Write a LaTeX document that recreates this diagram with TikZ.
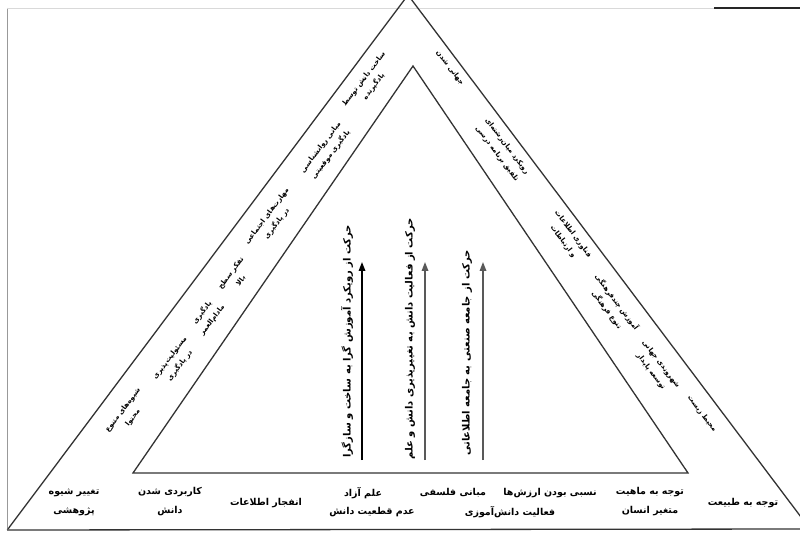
\documentclass[tikz,border=0pt]{standalone}
\usepackage{fontspec}
\usetikzlibrary{arrows.meta}
\TeXXeTstate=1
\newfontfamily\arabicfont[Script=Arabic]{DejaVu Sans}
\newcommand{\prs}[1]{{\arabicfont\bfseries\beginR #1\endR}}
\begin{document}
\begin{tikzpicture}[x=1pt,y=-1pt,
  tri/.style={line width=1.3pt, draw=black!80},
  band/.style={font=\fontsize{7}{12.5}\selectfont, align=center, inner sep=0pt},
  baselab/.style={font=\fontsize{9.5}{19}\selectfont, align=center, inner sep=0pt},
  vlab/.style={font=\fontsize{10}{10}\selectfont, rotate=90, anchor=west, inner sep=0pt},
  uparrow/.style={line width=1.6pt, draw=black!80, -{Triangle[length=9pt,width=6.5pt]}}]
\useasboundingbox (0,0) rectangle (800,534);
\fill[white] (0,0) rectangle (800,534);
\clip (0,0) rectangle (800,534);

% frame
\coordinate (fTL) at (7,8);
\coordinate (fBL) at (7,530);
\coordinate (fTR) at (800,8);
\coordinate (fK) at (714,8);
\draw[black!40, line width=0.8pt] (fTL) -- (fBL);
\draw[black!15, line width=0.6pt] (fTL) -- (fK);
\draw[black!85, line width=2pt] (fK) -- (fTR);

% triangles
\coordinate (oL) at (8,529);
\coordinate (oA) at (408,-5);
\coordinate (oR) at (810,529);
\coordinate (iL) at (133,473);
\coordinate (iA) at (413,66);
\coordinate (iR) at (688,473);
\draw[tri] (oL) -- (oA) -- (oR);
\draw[tri] (fBL) -- (oR);
\draw[tri] (iL) -- (iA) -- (iR) -- cycle;

% arrows
\coordinate (a1s) at (362,460); \coordinate (a1e) at (362,262);
\coordinate (a2s) at (425,460); \coordinate (a2e) at (425,262);
\coordinate (a3s) at (483,460); \coordinate (a3e) at (483,262);
\draw[uparrow, draw=black] (a1s) -- (a1e);
\draw[uparrow, draw=black!65] (a2s) -- (a2e);
\draw[uparrow, draw=black!65] (a3s) -- (a3e);

% vertical labels
\node[vlab] (v1) at (347,458) {\prs{حرکت از رویکرد آموزش گرا به ساخت و سازگرا}};
\node[vlab] (v2) at (410,460) {\prs{حرکت از فعالیت دانش به تغییرپذیری دانش و علم}};
\node[vlab] (v3) at (467,456) {\prs{حرکت از جامعه صنعتی به جامعه اطلاعاتی}};

% left band
\begin{scope}[every node/.append style={band, rotate=53}]
\node (l1) at (128,414) {\prs{شیوه^^^^200cهای متنوع}\\\prs{محتوا}};
\node (l2) at (175,362) {\prs{مسئولیت^^^^200cپذیری}\\\prs{در یادگیری}};
\node (l3) at (207,316) {\prs{یادگیری}\\\prs{مادام^^^^200cالعمر}};
\node (l4) at (236,277) {\prs{تفکر سطح}\\\prs{بالا}};
\node (l5) at (272,220) {\prs{مهارت^^^^200cهای اجتماعی}\\\prs{در یادگیری}};
\node (l6) at (326,151) {\prs{مبانی روانشناسی}\\\prs{یادگیری موقعیتی}};
\node (l7) at (369,83) {\prs{ساخت دانش توسط}\\\prs{یادگیرنده}};
\end{scope}

% right band
\begin{scope}[every node/.append style={band, rotate=-53}]
\node (r1) at (450,68) {\prs{جهانی شدن}};
\node (r2) at (502,150) {\prs{رویکرد میان^^^^200cرشته^^^^200cای}\\\prs{تلفیق برنامه درسی}};
\node (r3) at (568,238) {\prs{فناوری اطلاعات}\\\prs{و ارتباطات}};
\node (r4) at (612,306) {\prs{آموزش چندفرهنگی}\\\prs{تنوع فرهنگی}};
\node (r5) at (656,368) {\prs{شهروندی جهانی}\\\prs{توسعه پایدار}};
\node (r6) at (702,414) {\prs{محیط زیست}};
\end{scope}

% bottom labels
\node[baselab] (b1) at (743,503) {\prs{توجه به طبیعت}};
\node[baselab] (b2) at (650,502) {\prs{توجه به ماهیت}\\\prs{متغیر انسان}};
\node[baselab] (b3) at (550,493) {\prs{نسبی بودن ارزش^^^^200cها}};
\node[baselab] (b4) at (510,512) {\prs{فعالیت دانش^^^^200cآموزی}};
\node[baselab] (b5) at (453,493) {\prs{مبانی فلسفی}};
\node[baselab] (b6) at (363,493) {\prs{علم آزاد}};
\node[baselab] (b7) at (372,512) {\prs{عدم قطعیت دانش}};
\node[baselab] (b8) at (266,503) {\prs{انفجار اطلاعات}};
\node[baselab] (b9) at (170,502) {\prs{کاربردی شدن}\\\prs{دانش}};
\node[baselab] (b10) at (74,502) {\prs{تغییر شیوه}\\\prs{پژوهشی}};
\end{tikzpicture}
\end{document}
